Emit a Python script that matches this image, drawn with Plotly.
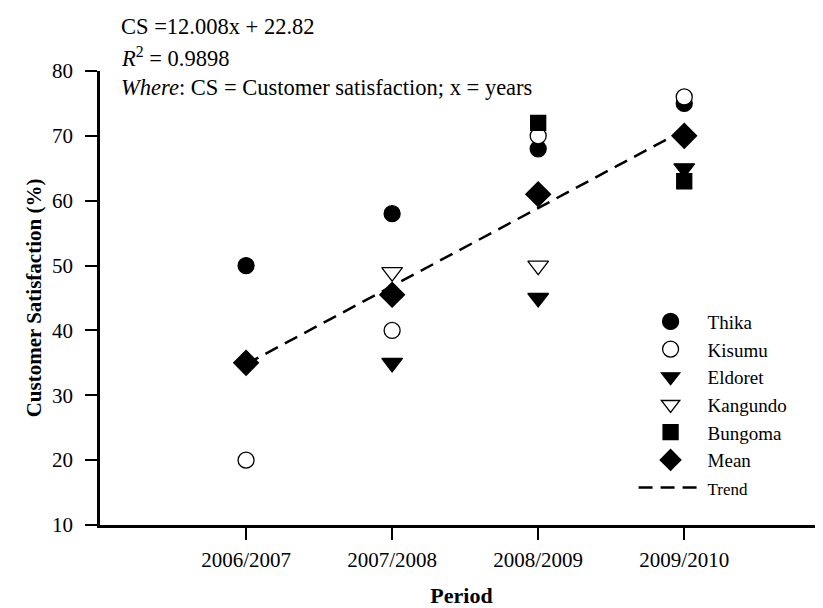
import plotly.graph_objects as go

periods = ["2006/2007", "2007/2008", "2008/2009", "2009/2010"]
period_pos = [1, 2, 3, 4]
thika = [50, 58, 68, 75]
kisumu = [20, 40, 70, 76]
eldoret = [None, 35, 45, 65]
kangundo = [None, 49, 50, None]
bungoma = [None, None, 72, 63]
mean = [35, 45.5, 61, 70]
trend = [34.8, 46.8, 58.8, 70.9]
y_ticks = [10, 20, 30, 40, 50, 60, 70, 80]

FONT = "Liberation Serif, Times New Roman, serif"
fig = go.Figure()

fig.add_trace(go.Scatter(x=period_pos, y=trend, mode="lines", name="<span style='font-size:17px'>Trend</span>",
                         line=dict(color="black", width=2.5, dash="14px,8px"), legendrank=7))

def add_pts(name, vals, symbol, fill, size, rank):
    fig.add_trace(go.Scatter(x=period_pos, y=vals, mode="markers", name=name, legendrank=rank,
                             marker=dict(symbol=symbol, size=size, color=fill,
                                         line=dict(color="black", width=1.3))))

add_pts("Thika", thika, "circle", "black", 16, 1)
add_pts("Kisumu", kisumu, "circle", "white", 16, 2)
add_pts("Eldoret", eldoret, "triangle-down", "black", 18, 3)
add_pts("Kangundo", kangundo, "triangle-down", "white", 18, 4)
add_pts("Bungoma", bungoma, "square", "black", 15, 5)
add_pts("Mean", mean, "diamond", "black", 19, 6)

# page has an 8px body margin, so the figure is 8px smaller than the window
fig.update_layout(
    width=815, height=600,
    margin=dict(l=92, r=0, t=63, b=83),
    plot_bgcolor="white", paper_bgcolor="white",
    font=dict(family=FONT, color="black", size=18),
    showlegend=True,
    legend=dict(x=0.738, y=0.49, xanchor="left", yanchor="top", bgcolor="rgba(0,0,0,0)",
                font=dict(family=FONT, size=19), itemwidth=64, tracegroupgap=0),
    xaxis=dict(range=[0, 4.95], tickvals=period_pos, ticktext=periods, showgrid=False, zeroline=False,
               showline=True, linecolor="black", linewidth=2.5, ticks="outside", ticklen=12, tickwidth=2,
               tickcolor="black", tickfont=dict(family=FONT, size=21), ticklabelstandoff=2,
               title=dict(text="<b>Period</b>", font=dict(family=FONT, size=22), standoff=18)),
    yaxis=dict(range=[10, 80], tickvals=y_ticks, showgrid=False, zeroline=False,
               showline=True, linecolor="black", linewidth=2.5, ticks="outside", ticklen=12, tickwidth=2,
               tickcolor="black", tickfont=dict(family=FONT, size=21), ticklabelstandoff=8,
               title=dict(text="<b>Customer Satisfaction (%)</b>", font=dict(family=FONT, size=21), standoff=5)),
    annotations=[
        dict(text="CS =12.008x + 22.82", xref="paper", yref="paper", x=(119-100)/723, y=(525-27)/454,
             yanchor="middle", xanchor="left", showarrow=False, font=dict(family=FONT, size=22.5)),
        dict(text="<i>R</i><sup>2</sup> = 0.9898", xref="paper", yref="paper", x=(119-100)/723, y=(525-57)/454,
             yanchor="middle", xanchor="left", showarrow=False, font=dict(family=FONT, size=22.5)),
        dict(text="<i>Where</i>: CS = Customer satisfaction; x = years", xref="paper", yref="paper",
             x=(119-100)/723, y=(525-87)/454, yanchor="middle", xanchor="left", showarrow=False,
             font=dict(family=FONT, size=22.5)),
    ],
)

fig.write_html("out.html")
